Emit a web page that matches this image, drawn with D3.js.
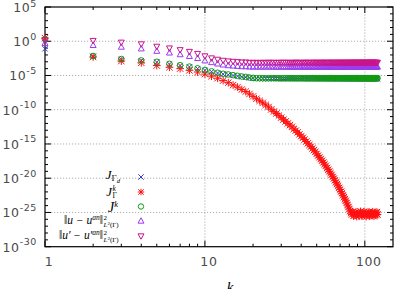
<!DOCTYPE html>
<html>
<head>
<meta charset="utf-8">
<script src="https://cdn.jsdelivr.net/npm/d3@7"></script>
<style>
  body { margin: 0; background: #fff; }
  svg { display: block; }
</style>
</head>
<body>
<div id="chart"></div>
<script>
const width = 396;
const height = 289;

// iteration number k = 1..120
const ks = d3.range(1, 121);

// log10 of each series
const jGammaD = [
  -1.1, -2.2, -2.65, -2.85, -3.05, -3.35, -3.55, -3.75, -4.0, -4.25,
  -4.45, -4.65, -4.8, -4.9, -5.0, -5.1, -5.2, -5.25, -5.35, -5.4,
  -5.45, -5.44, -5.45, -5.46, -5.45, -5.45, -5.44, -5.45, -5.45, -5.46,
  -5.45, -5.45, -5.44, -5.45, -5.45, -5.45, -5.46, -5.45, -5.45, -5.44,
  -5.45, -5.45, -5.45, -5.46, -5.45, -5.45, -5.44, -5.45, -5.45, -5.45,
  -5.46, -5.45, -5.45, -5.44, -5.45, -5.45, -5.45, -5.46, -5.45, -5.45,
  -5.44, -5.45, -5.45, -5.45, -5.46, -5.45, -5.45, -5.44, -5.45, -5.45,
  -5.45, -5.46, -5.45, -5.45, -5.44, -5.45, -5.45, -5.45, -5.46, -5.45,
  -5.45, -5.44, -5.45, -5.45, -5.45, -5.46, -5.45, -5.45, -5.44, -5.45,
  -5.45, -5.45, -5.46, -5.45, -5.45, -5.44, -5.45, -5.45, -5.45, -5.46,
  -5.45, -5.45, -5.44, -5.45, -5.45, -5.45, -5.46, -5.45, -5.45, -5.44,
  -5.45, -5.45, -5.45, -5.46, -5.45, -5.45, -5.44, -5.45, -5.45, -5.45
];
const jGammaK = [
  0.45, -2.3, -2.9, -3.15, -3.55, -3.8, -4.0, -4.25, -4.5, -4.8,
  -5.1, -5.4, -5.75, -6.05, -6.4, -6.7, -7.05, -7.35, -7.7, -8.05,
  -8.4, -8.7, -9.0, -9.3, -9.6, -9.95, -10.25, -10.55, -10.85, -11.15,
  -11.45, -11.7, -12.0, -12.25, -12.5, -12.8, -13.05, -13.3, -13.6, -13.85,
  -14.1, -14.35, -14.65, -14.9, -15.15, -15.4, -15.65, -15.9, -16.15, -16.45,
  -16.7, -16.95, -17.2, -17.45, -17.7, -17.95, -18.2, -18.5, -18.75, -19.0,
  -19.25, -19.5, -19.8, -20.05, -20.3, -20.6, -20.85, -21.1, -21.4, -21.65,
  -21.95, -22.2, -22.5, -22.75, -23.05, -23.3, -23.6, -23.9, -24.2, -24.5,
  -24.8, -25.1, -25.3, -24.9, -25.5, -25.1, -25.4, -24.95, -25.6, -25.2,
  -25.0, -25.45, -25.15, -24.85, -25.35, -25.55, -25.05, -25.25, -24.9, -25.4,
  -25.15, -25.6, -25.0, -25.3, -25.2, -24.95, -25.5, -25.1, -25.35, -25.05,
  -25.45, -24.9, -25.25, -25.55, -25.15, -25.0, -25.4, -25.2, -24.95, -25.3
];
const jK = [
  0.3, -2.15, -2.6, -2.8, -3.0, -3.3, -3.5, -3.7, -3.95, -4.2,
  -4.4, -4.6, -4.75, -4.85, -4.95, -5.05, -5.15, -5.2, -5.3, -5.35,
  -5.4, -5.39, -5.4, -5.41, -5.4, -5.4, -5.39, -5.4, -5.4, -5.41,
  -5.4, -5.4, -5.39, -5.4, -5.4, -5.4, -5.41, -5.4, -5.4, -5.39,
  -5.4, -5.4, -5.4, -5.41, -5.4, -5.4, -5.39, -5.4, -5.4, -5.4,
  -5.41, -5.4, -5.4, -5.39, -5.4, -5.4, -5.4, -5.41, -5.4, -5.4,
  -5.39, -5.4, -5.4, -5.4, -5.41, -5.4, -5.4, -5.39, -5.4, -5.4,
  -5.4, -5.41, -5.4, -5.4, -5.39, -5.4, -5.4, -5.4, -5.41, -5.4,
  -5.4, -5.39, -5.4, -5.4, -5.4, -5.41, -5.4, -5.4, -5.39, -5.4,
  -5.4, -5.4, -5.41, -5.4, -5.4, -5.39, -5.4, -5.4, -5.4, -5.41,
  -5.4, -5.4, -5.39, -5.4, -5.4, -5.4, -5.41, -5.4, -5.4, -5.39,
  -5.4, -5.4, -5.4, -5.41, -5.4, -5.4, -5.39, -5.4, -5.4, -5.4
];
const errU = [
  -0.3, -0.6, -0.85, -1.1, -1.45, -1.7, -1.95, -2.2, -2.5, -2.85,
  -3.1, -3.3, -3.45, -3.55, -3.6, -3.65, -3.7, -3.7, -3.75, -3.75,
  -3.75, -3.76, -3.75, -3.75, -3.74, -3.75, -3.75, -3.76, -3.75, -3.75,
  -3.74, -3.75, -3.75, -3.76, -3.75, -3.75, -3.74, -3.75, -3.75, -3.76,
  -3.75, -3.75, -3.74, -3.75, -3.75, -3.76, -3.75, -3.75, -3.74, -3.75,
  -3.75, -3.76, -3.75, -3.75, -3.74, -3.75, -3.75, -3.76, -3.75, -3.75,
  -3.74, -3.75, -3.75, -3.76, -3.75, -3.75, -3.74, -3.75, -3.75, -3.76,
  -3.75, -3.75, -3.74, -3.75, -3.75, -3.76, -3.75, -3.75, -3.74, -3.75,
  -3.75, -3.76, -3.75, -3.75, -3.74, -3.75, -3.75, -3.76, -3.75, -3.75,
  -3.74, -3.75, -3.75, -3.76, -3.75, -3.75, -3.74, -3.75, -3.75, -3.76,
  -3.75, -3.75, -3.74, -3.75, -3.75, -3.76, -3.75, -3.75, -3.74, -3.75,
  -3.75, -3.76, -3.75, -3.75, -3.74, -3.75, -3.75, -3.76, -3.75, -3.75
];
const errUp = [
  0.2, 0.1, -0.15, -0.4, -0.75, -1.0, -1.25, -1.5, -1.8, -2.15,
  -2.45, -2.65, -2.8, -2.9, -2.95, -3.0, -3.05, -3.05, -3.1, -3.1,
  -3.1, -3.11, -3.1, -3.1, -3.09, -3.1, -3.1, -3.11, -3.1, -3.1,
  -3.09, -3.1, -3.1, -3.11, -3.1, -3.1, -3.09, -3.1, -3.1, -3.11,
  -3.1, -3.1, -3.09, -3.1, -3.1, -3.11, -3.1, -3.1, -3.09, -3.1,
  -3.1, -3.11, -3.1, -3.1, -3.09, -3.1, -3.1, -3.11, -3.1, -3.1,
  -3.09, -3.1, -3.1, -3.11, -3.1, -3.1, -3.09, -3.1, -3.1, -3.11,
  -3.1, -3.1, -3.09, -3.1, -3.1, -3.11, -3.1, -3.1, -3.09, -3.1,
  -3.1, -3.11, -3.1, -3.1, -3.09, -3.1, -3.1, -3.11, -3.1, -3.1,
  -3.09, -3.1, -3.1, -3.11, -3.1, -3.1, -3.09, -3.1, -3.1, -3.11,
  -3.1, -3.1, -3.09, -3.1, -3.1, -3.11, -3.1, -3.1, -3.09, -3.1,
  -3.1, -3.11, -3.1, -3.1, -3.09, -3.1, -3.1, -3.11, -3.1, -3.1
];

const xMajor = [1, 10, 100];
const xMinor = [2, 3, 4, 5, 6, 7, 8, 9, 20, 30, 40, 50, 60, 70, 80, 90];
const yExponents = [5, 0, -5, -10, -15, -20, -25, -30];

const series = [
  { name: "jGammaD", values: jGammaD, color: "#3a3ad0", shape: "cross", r: 2.7 },
  { name: "jGammaK", values: jGammaK, color: "#ff1010", shape: "star", r: 3.2 },
  { name: "jK", values: jK, color: "#109c10", shape: "circle", r: 2.8 },
  { name: "errU", values: errU, color: "#9a3cf0", shape: "triUp", r: 2.7 },
  { name: "errUp", values: errUp, color: "#c8148c", shape: "triDown", r: 2.7 }
];

const x = d3.scaleLog().domain([1, 150]).range([45, 393]);
const y = d3.scaleLog().domain([1e-30, 1e5]).range([246.7, 7]);

const svg = d3.select("#chart")
  .append("svg")
  .attr("width", width)
  .attr("height", height);

// grid
const grid = svg.append("g")
  .attr("stroke", "#9a9a9a")
  .attr("stroke-width", 0.8)
  .attr("stroke-dasharray", "1.2,1.8");

grid.selectAll("line.gx")
  .data(xMajor.slice(1))
  .join("line")
  .attr("x1", d => x(d)).attr("x2", d => x(d))
  .attr("y1", y.range()[0]).attr("y2", y.range()[1]);

grid.selectAll("line.gy")
  .data(yExponents.slice(1, -1))
  .join("line")
  .attr("x1", x.range()[0]).attr("x2", x.range()[1])
  .attr("y1", d => y(10 ** d)).attr("y2", d => y(10 ** d));

// ticks
const ticks = svg.append("g").attr("stroke", "#000").attr("stroke-width", 1);
const [x0, x1] = x.range();
const [yb, yt] = y.range();

function xTick(v, len) {
  ticks.append("line").attr("x1", x(v)).attr("x2", x(v)).attr("y1", yb).attr("y2", yb - len);
  ticks.append("line").attr("x1", x(v)).attr("x2", x(v)).attr("y1", yt).attr("y2", yt + len);
}
function yTick(e, len) {
  const p = y(10 ** e);
  ticks.append("line").attr("x1", x0).attr("x2", x0 + len).attr("y1", p).attr("y2", p);
  ticks.append("line").attr("x1", x1).attr("x2", x1 - len).attr("y1", p).attr("y2", p);
}
xMajor.forEach(v => xTick(v, 6));
xMinor.forEach(v => xTick(v, 3));
d3.range(-30, 6).forEach(e => yTick(e, yExponents.includes(e) ? 6 : 3));

// frame
svg.append("rect")
  .attr("x", x0).attr("y", yt)
  .attr("width", x1 - x0).attr("height", yb - yt)
  .attr("fill", "none")
  .attr("stroke", "#000")
  .attr("stroke-width", 1.2);

// tick labels
const labels = svg.append("g")
  .attr("font-family", "DejaVu Sans")
  .attr("fill", "#4a4a4a");

const yl = labels.selectAll("text.yl")
  .data(yExponents)
  .join("text")
  .attr("x", 37)
  .attr("y", d => y(10 ** d) + 5)
  .attr("text-anchor", "end")
  .attr("font-size", 12.5)
  .attr("letter-spacing", 0.6);
yl.append("tspan").text("10");
yl.append("tspan").attr("dy", d => d === 5 ? -5.5 : -6.5).attr("font-size", 9.5).text(d => String(d));

labels.selectAll("text.xl")
  .data(xMajor)
  .join("text")
  .attr("x", d => x(d) + 4)
  .attr("y", 266)
  .attr("text-anchor", "middle")
  .attr("font-size", 12.5)
  .attr("letter-spacing", 0.6)
  .text(d => d);

svg.append("text")
  .attr("x", 230)
  .attr("y", 292)
  .attr("text-anchor", "middle")
  .attr("font-family", "Liberation Serif")
  .attr("font-style", "italic")
  .attr("font-size", 15)
  .text("k");

// markers
function marker(sel, shape, r) {
  if (shape === "circle") {
    sel.append("circle").attr("r", r);
  } else if (shape === "cross") {
    sel.append("path").attr("d", `M${-r},${-r}L${r},${r}M${-r},${r}L${r},${-r}`);
  } else if (shape === "star") {
    sel.append("path").attr("d",
      `M${-r},${-r}L${r},${r}M${-r},${r}L${r},${-r}M${-r * 1.2},0L${r * 1.2},0M0,${-r * 1.2}L0,${r * 1.2}`);
  } else if (shape === "triUp") {
    sel.append("path").attr("d", `M0,${-r * 1.2}L${r * 1.1},${r * 0.8}L${-r * 1.1},${r * 0.8}Z`);
  } else if (shape === "triDown") {
    sel.append("path").attr("d", `M0,${r * 1.2}L${r * 1.1},${-r * 0.8}L${-r * 1.1},${-r * 0.8}Z`);
  }
}

series.forEach(s => {
  const g = svg.append("g")
    .attr("fill", "none")
    .attr("stroke", s.color)
    .attr("stroke-width", 1);
  g.selectAll("g")
    .data(s.values.map((v, i) => ({ k: ks[i], v: 10 ** v })))
    .join("g")
    .attr("transform", d => `translate(${x(d.k)},${y(d.v)})`)
    .each(function() { marker(d3.select(this), s.shape, s.r); });
});

// legend
const legend = svg.append("g")
  .attr("font-family", "Liberation Serif")
  .attr("fill", "#000");
const rowY = [177, 192, 206.5, 221, 236];

series.forEach((s, i) => {
  const m = legend.append("g")
    .attr("transform", `translate(141,${rowY[i]})`)
    .attr("fill", "none")
    .attr("stroke", s.color);
  marker(m, s.shape, 2.7);
});

let t = legend.append("text").attr("x", 120).attr("y", rowY[0] + 2).attr("text-anchor", "end").attr("font-size", 13);
t.append("tspan").attr("font-style", "italic").text("J");
t.append("tspan").attr("font-size", 9).attr("dy", 2).text("Γ");
t.append("tspan").attr("font-size", 6.5).attr("font-style", "italic").attr("dy", 1.5).text("d");

legend.append("text").attr("x", 112).attr("y", rowY[1] + 4).attr("text-anchor", "end")
  .attr("font-size", 13).attr("font-style", "italic").text("J");
legend.append("text").attr("x", 112.5).attr("y", rowY[1] - 1.5).attr("font-size", 7.5)
  .attr("font-style", "italic").text("k");
legend.append("text").attr("x", 112.5).attr("y", rowY[1] + 5.5).attr("font-size", 7.5).text("Γ");

t = legend.append("text").attr("x", 118).attr("y", rowY[2] + 5.5).attr("text-anchor", "end").attr("font-size", 14);
t.append("tspan").attr("font-style", "italic").text("J");
t.append("tspan").attr("font-size", 8.5).attr("font-style", "italic").attr("dy", -5.5).text("k");

function normLabel(row, prime) {
  const yy = rowY[row];
  const tx = legend.append("text").attr("x", 103).attr("y", yy + 3).attr("text-anchor", "end").attr("font-size", 11.5);
  tx.append("tspan").text("\u2016");
  tx.append("tspan").attr("font-style", "italic").text(prime ? "u\u2032 \u2212 u\u2032" : "u \u2212 u");
  tx.append("tspan").attr("font-style", "italic").attr("font-size", 7.5).attr("dy", -4).text("an");
  tx.append("tspan").attr("dy", 4).text("\u2016");
  legend.append("text").attr("x", 103.5).attr("y", yy - 1.5).attr("font-size", 7).text("2");
  const sub = legend.append("text").attr("x", 103.5).attr("y", yy + 5.5).attr("font-size", 7);
  sub.append("tspan").attr("font-style", "italic").text("L");
  sub.append("tspan").attr("font-size", 5).attr("dy", -2).text("2");
  sub.append("tspan").attr("dy", 2).text("(Γ)");
}
normLabel(3, false);
normLabel(4, true);
</script>
</body>
</html>
